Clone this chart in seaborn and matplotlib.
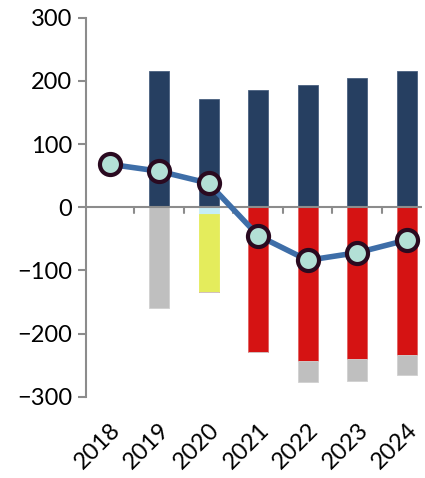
import numpy as np
import pandas as pd
import matplotlib
matplotlib.use("Agg")
import matplotlib.pyplot as plt
import seaborn as sns

years = ["2018", "2019", "2020", "2021", "2022", "2023", "2024"]
navy = [0, 215, 171, 185, 194, 205, 215]
cyan = [0, 0, -11, 0, 0, 0, 0]
yellow = [0, 0, -123, 0, 0, 0, 0]
red = [0, 0, 0, -229, -243, -240, -234]
gray = [0, -160, 0, 0, -33, -35, -31]
line = [68, 57, 38, -45, -84, -72, -52]

sns.set_style("white")
plt.rcParams["font.family"] = ["Lato", "DejaVu Sans"]

fig = plt.figure(figsize=(4.25, 4.78), dpi=100)
ax = fig.add_axes([0.202, 0.17, 0.79, 0.793])

df = pd.DataFrame({"year": years, "navy": navy, "cyan": cyan, "yellow": yellow,
                   "red": red, "gray": gray, "line": line})

neg_base = np.zeros(len(years))
kw = dict(x="year", order=years, width=0.4, ax=ax, linewidth=0.6)
sns.barplot(data=df, y="navy", color="#263f61", edgecolor="#4a6080", saturation=1, **kw)
for col, c, ec in [("cyan", "#c6eef6", "#c6eef6"), ("yellow", "#e4ec5c", "#e4ec5c"),
                   ("red", "#d51313", "#e06060"), ("gray", "#bfbfbf", "#d0d0d0")]:
    sns.barplot(data=df, y=col, color=c, edgecolor=ec, saturation=1, bottom=neg_base.copy(), **kw)
    neg_base = neg_base + np.array(df[col])

ax.plot(range(len(years)), line, color="#3e6ea8", lw=4, zorder=5)
ax.scatter(range(len(years)), line, s=230, facecolor="#b3e0d6", edgecolor="#2a0a20",
           linewidth=3, zorder=6)

ax.set_ylim(-300, 300)
ax.set_xlim(-0.48, 6.3)
ax.set_yticks([-300, -200, -100, 0, 100, 200, 300])
ax.set_xlabel("")
ax.set_ylabel("")

for s in ["top", "right", "bottom"]:
    ax.spines[s].set_visible(False)
ax.spines["left"].set_color("#8c8c8c")
ax.spines["left"].set_linewidth(1.5)
ax.axhline(0, color="#8c8c8c", lw=1.5, zorder=1)
for i in range(len(years) - 1):
    ax.plot([i + 0.5, i + 0.5], [0, -9], color="#8c8c8c", lw=1.5, zorder=1)

ax.tick_params(axis="y", length=6, width=1.5, color="#8c8c8c", labelsize=17, pad=4,
               left=True, labelcolor="black")
ax.tick_params(axis="x", length=0, labelsize=17, pad=16, labelcolor="black")
plt.setp(ax.get_xticklabels(), rotation=45, ha="right", rotation_mode="anchor")

fig.savefig("out.png", dpi=100)
